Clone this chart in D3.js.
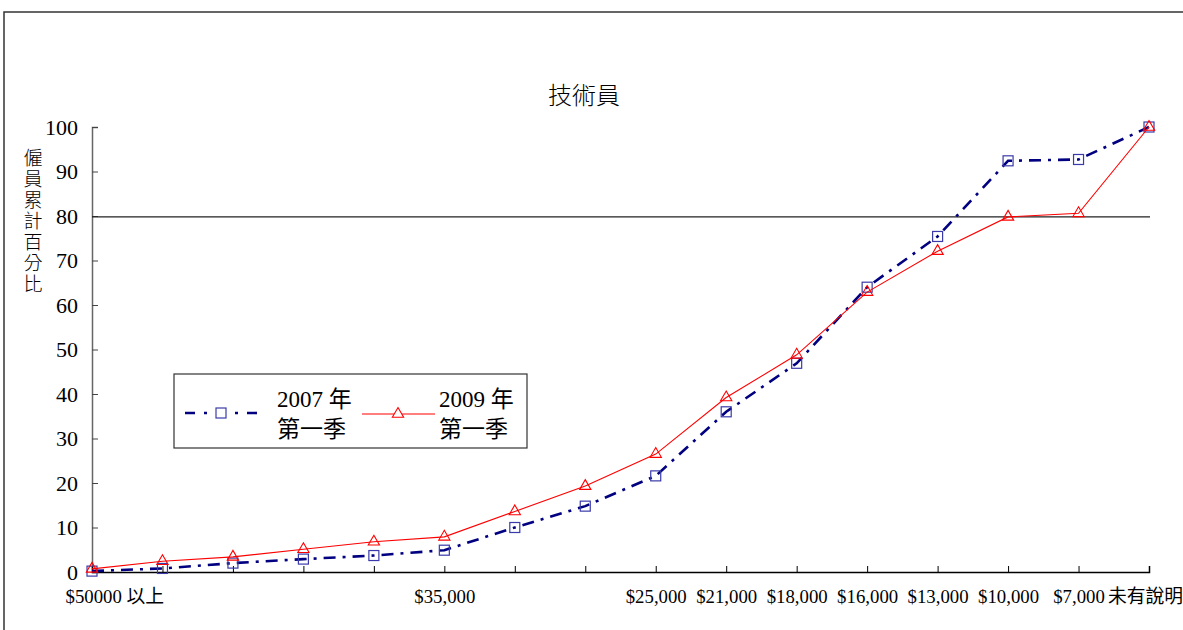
<!DOCTYPE html>
<html><head><meta charset="utf-8">
<script src="https://cdn.jsdelivr.net/npm/d3@7"></script>
<style>body{margin:0;background:#fff}svg{display:block}</style>
</head><body>
<svg id="c" width="1183" height="630"></svg>
<script>
const categories = ["$50000 以上","","","","","$35,000","","","$25,000","$21,000","$18,000","$16,000","$13,000","$10,000","$7,000","未有說明"];
const series2007 = [0.2,0.8,2.0,2.9,3.7,4.9,10.0,14.8,21.6,36.0,46.9,64.0,75.4,92.4,92.7,100];
const series2009 = [0.7,2.4,3.4,5.1,6.8,7.9,13.6,19.3,26.5,39.2,48.8,62.9,72.1,79.8,80.6,100];
const yTicks = [0,10,20,30,40,50,60,70,80,90,100];
const refValue = 79.8;
const title = "技術員";
const yTitle = "僱員累計百分比";
const legendLabels = [["2007 年","第一季"],["2009 年","第一季"]];

const FONT = "'Liberation Serif','Times New Roman','Noto Sans CJK TC',serif";
const svg = d3.select("#c");
svg.append("rect").attr("x",4).attr("y",12).attr("width",1250).attr("height",700)
  .attr("fill","none").attr("stroke","#333").attr("stroke-width",1.5);

const idx = d3.range(categories.length);
const x = d3.scalePoint().domain(idx).range([92,1149]);
const y = d3.scaleLinear().domain([0,100]).range([572,127]);

// title
svg.append("text").attr("x",584).attr("y",104).attr("text-anchor","middle")
  .attr("font-family","'Noto Sans CJK TC',sans-serif").attr("font-size",24).attr("font-weight",300)
  .text(title);

// y axis title (vertical)
svg.append("text").attr("x",33).attr("y",148)
  .attr("font-family","'Noto Sans CJK TC',sans-serif").attr("font-size",19).attr("font-weight",300)
  .attr("writing-mode","vertical-rl").style("text-orientation","upright")
  .attr("letter-spacing",2).text(yTitle);

// y axis
const yAxis = d3.axisLeft(y).tickValues(yTicks).tickSize(-6).tickPadding(14);
const gy = svg.append("g").attr("transform","translate(92,0)").call(yAxis);
gy.select(".domain").attr("stroke","#666").attr("stroke-width",1.5);
gy.selectAll(".tick line").attr("stroke","#444");
gy.selectAll("text").attr("font-family",FONT).attr("font-size",22).attr("fill","#000");

// x axis
const xAxis = d3.axisBottom(x).tickSize(-6).tickPadding(18).tickFormat(i=>categories[i]);
const gx = svg.append("g").attr("transform","translate(0,572)").call(xAxis);
gx.select(".domain").attr("stroke","#000").attr("stroke-width",1.5);
gx.selectAll(".tick line").attr("stroke","#000");
gx.selectAll("text").attr("font-family",FONT).attr("font-size",18.8).attr("fill","#000");
gx.selectAll(".tick").filter(d=>d===0).select("text").attr("text-anchor","start").attr("x",-27);
gx.selectAll(".tick").filter(d=>d===categories.length-1).select("text").attr("x",-4);

// reference line
svg.append("line").attr("x1",x(0)).attr("x2",x(categories.length-1)+1)
  .attr("y1",y(refValue)).attr("y2",y(refValue)).attr("stroke","#222").attr("stroke-width",1.2);

const line = d3.line().x((d,i)=>x(i)).y(d=>y(d));
// 2007
svg.append("path").datum(series2007).attr("d",line).attr("fill","none")
  .attr("stroke","#000080").attr("stroke-width",2.6).attr("stroke-dasharray","12,7,3,7");
svg.append("g").selectAll("rect").data(series2007).join("rect")
  .attr("x",(d,i)=>x(i)-5).attr("y",d=>y(d)-5).attr("width",10).attr("height",10)
  .attr("fill","none").attr("stroke","#3a3aaa").attr("stroke-width",1.2);
// 2009
svg.append("path").datum(series2009).attr("d",line).attr("fill","none")
  .attr("stroke","#ff0000").attr("stroke-width",1.1);
const tri = d3.symbol().type(d3.symbolTriangle).size(55);
svg.append("g").selectAll("path").data(series2009).join("path")
  .attr("d",tri).attr("transform",(d,i)=>`translate(${x(i)},${y(d)})`)
  .attr("fill","none").attr("stroke","#ff0000").attr("stroke-width",1.1);

// legend
const lg = svg.append("g");
lg.append("rect").attr("x",174).attr("y",374).attr("width",353).attr("height",74)
  .attr("fill","#fff").attr("stroke","#333").attr("stroke-width",1.2);
lg.append("line").attr("x1",185).attr("x2",258).attr("y1",413).attr("y2",413)
  .attr("stroke","#000080").attr("stroke-width",2.6).attr("stroke-dasharray","10,9,3,9");
lg.append("rect").attr("x",216).attr("y",408).attr("width",10).attr("height",10)
  .attr("fill","#fff").attr("stroke","#3a3aaa").attr("stroke-width",1.2);
lg.append("line").attr("x1",362).attr("x2",435).attr("y1",414).attr("y2",414)
  .attr("stroke","#ff0000").attr("stroke-width",1.1);
lg.append("path").attr("d",tri).attr("transform","translate(398,414)")
  .attr("fill","#fff").attr("stroke","#ff0000").attr("stroke-width",1.1);
legendLabels.forEach((lines,k)=>{
  const t = lg.append("text").attr("font-family",FONT).attr("font-size",23).attr("fill","#000");
  lines.forEach((s,j)=>t.append("tspan").attr("x",k===0?277:439).attr("y",407+j*30).text(s));
});
</script>
</body></html>
